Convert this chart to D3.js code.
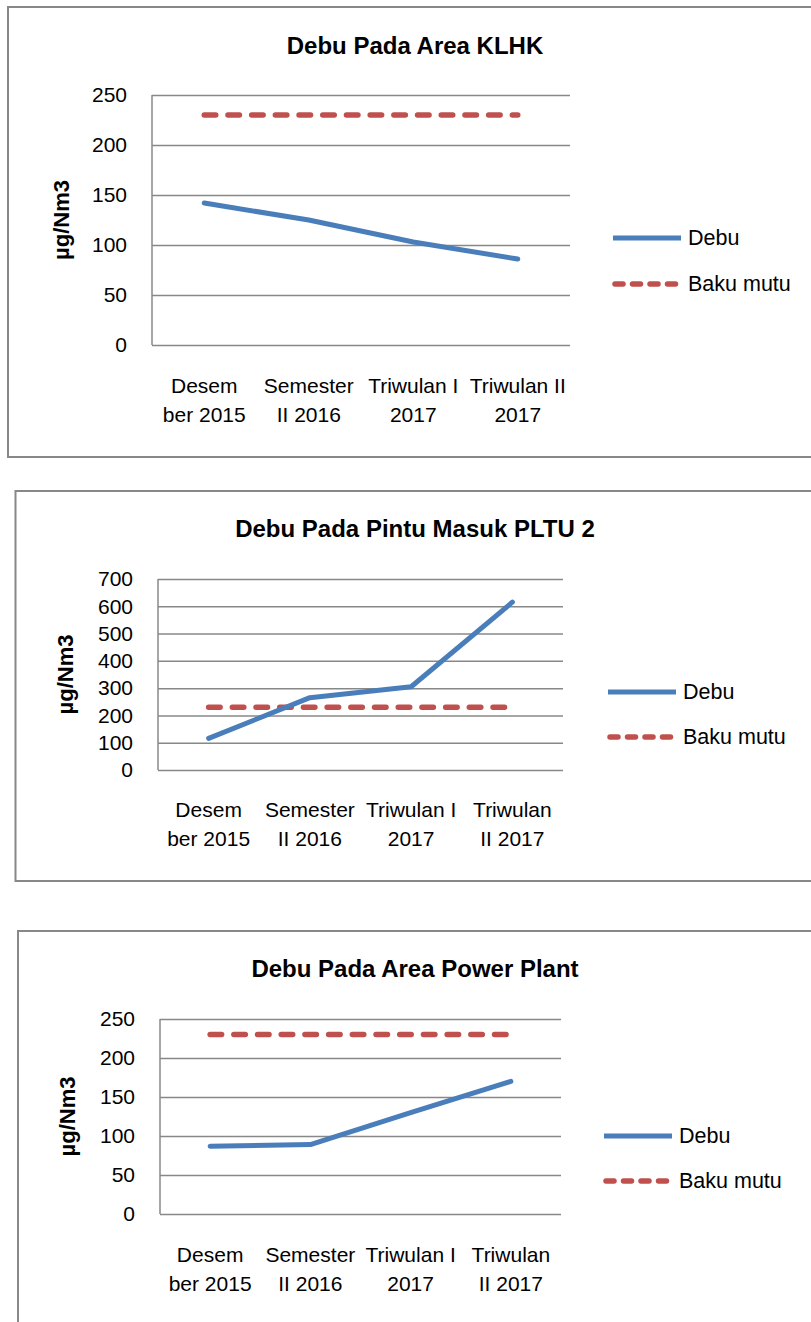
<!DOCTYPE html>
<html>
<head>
<meta charset="utf-8">
<script src="https://cdn.jsdelivr.net/npm/d3@7"></script>
<style>
  body { margin: 0; background: #fff; }
  svg { display: block; font-family: "Liberation Sans", Arial, sans-serif; }
  .grid line { stroke: #888; stroke-width: 1.5; }
  .grid .domain { display: none; }
  .ticks .domain, .ticks line { display: none; }
  .ticks text { font-size: 21px; fill: #000; }
</style>
</head>
<body>
<svg id="chart" width="811" height="1322"></svg>
<script>
// data
var categories = [['Desem', 'ber 2015'], ['Semester', 'II 2016'], ['Triwulan I', '2017'], ['Triwulan II', '2017']]
var categories2 = [['Desem', 'ber 2015'], ['Semester', 'II 2016'], ['Triwulan I', '2017'], ['Triwulan', 'II 2017']]
var debuKlhk = [142, 125, 103, 86]
var debuPltu = [116, 265, 305, 615]
var debuPowerPlant = [87, 89, 130, 170]
var bakuMutu = [230, 230, 230, 230]
var ticks250 = [0, 50, 100, 150, 200, 250]
var ticks700 = [0, 100, 200, 300, 400, 500, 600, 700]
var seriesNames = ['Debu', 'Baku mutu']

var blue = '#4a7ebb', red = '#c0504d'
var svg = d3.select('#chart')

var panels = [
  { title: 'Debu Pada Area KLHK', cats: categories, debu: debuKlhk, ticks: ticks250,
    box: [8, 7, 850, 450], plot: [152, 570, 95, 345], titleY: 54,
    legX: 613, legY: [238, 284], labX: 61, xlabY: 386 },
  { title: 'Debu Pada Pintu Masuk PLTU 2', cats: categories2, debu: debuPltu, ticks: ticks700,
    box: [15.5, 491, 850, 390], plot: [158, 563, 579, 770], titleY: 537,
    legX: 608, legY: [692, 737], labX: 65, xlabY: 810 },
  { title: 'Debu Pada Area Power Plant', cats: categories2, debu: debuPowerPlant, ticks: ticks250,
    box: [18, 931, 850, 450], plot: [160, 561, 1019, 1214], titleY: 977,
    legX: 604, legY: [1136, 1181], labX: 67, xlabY: 1255 }
]

panels.forEach(function (p) {
  var g = svg.append('g')

  g.append('rect').attr('x', p.box[0]).attr('y', p.box[1])
    .attr('width', p.box[2]).attr('height', p.box[3])
    .attr('fill', 'none').attr('stroke', '#888').attr('stroke-width', 2)

  var x = d3.scaleBand().domain(d3.range(p.cats.length)).range([p.plot[0], p.plot[1]])
  var y = d3.scaleLinear().domain([0, d3.max(p.ticks)]).range([p.plot[3], p.plot[2]])

  g.append('text').attr('x', 415).attr('y', p.titleY)
    .attr('text-anchor', 'middle').style('font-size', '24px').style('font-weight', 'bold')
    .text(p.title)

  // gridlines
  g.append('g').attr('class', 'grid')
    .attr('transform', 'translate(' + p.plot[0] + ',0)')
    .call(d3.axisLeft(y).tickValues(p.ticks).tickSize(-(p.plot[1] - p.plot[0])).tickFormat(''))

  g.append('line').attr('x1', p.plot[0]).attr('x2', p.plot[0])
    .attr('y1', p.plot[2]).attr('y2', p.plot[3])
    .attr('stroke', '#888').attr('stroke-width', 1.5)

  // tick labels
  g.append('g').attr('class', 'ticks')
    .attr('transform', 'translate(' + (p.plot[0] - 25) + ',0)')
    .call(d3.axisLeft(y).tickValues(p.ticks).tickSize(0).tickPadding(0))

  // y label
  g.append('text')
    .attr('transform', 'translate(' + (p.labX + 8) + ',' + ((p.plot[2] + p.plot[3]) / 2) + ') rotate(-90)')
    .attr('text-anchor', 'middle').style('font-size', '22px').style('font-weight', 'bold')
    .text('µg/Nm3')

  // category labels
  p.cats.forEach(function (c, i) {
    c.forEach(function (line, j) {
      g.append('text').attr('x', x(i) + x.bandwidth() / 2).attr('y', p.xlabY + j * 29 + 7)
        .attr('text-anchor', 'middle').style('font-size', '21px')
        .text(line)
    })
  })

  var line = d3.line().x(function (d, i) { return x(i) + x.bandwidth() / 2 }).y(function (d) { return y(d) })

  g.append('path').datum(bakuMutu).attr('d', line)
    .attr('fill', 'none').attr('stroke', red).attr('stroke-width', 5.5)
    .attr('stroke-linecap', 'round').attr('stroke-dasharray', '11.5,12.2')

  g.append('path').datum(p.debu).attr('d', line)
    .attr('fill', 'none').attr('stroke', blue).attr('stroke-width', 5)
    .attr('stroke-linecap', 'round').attr('stroke-linejoin', 'round')

  // legend
  g.append('line').attr('x1', p.legX).attr('x2', p.legX + 68)
    .attr('y1', p.legY[0]).attr('y2', p.legY[0])
    .attr('stroke', blue).attr('stroke-width', 5)
  g.append('line').attr('x1', p.legX + 2).attr('x2', p.legX + 66)
    .attr('y1', p.legY[1]).attr('y2', p.legY[1])
    .attr('stroke', red).attr('stroke-width', 5.5).attr('stroke-linecap', 'round')
    .attr('stroke-dasharray', '8,9.5')

  seriesNames.forEach(function (s, i) {
    g.append('text').attr('x', p.legX + 75).attr('y', p.legY[i] + 7)
      .style('font-size', '21.5px').text(s)
  })
})
</script>
</body>
</html>
